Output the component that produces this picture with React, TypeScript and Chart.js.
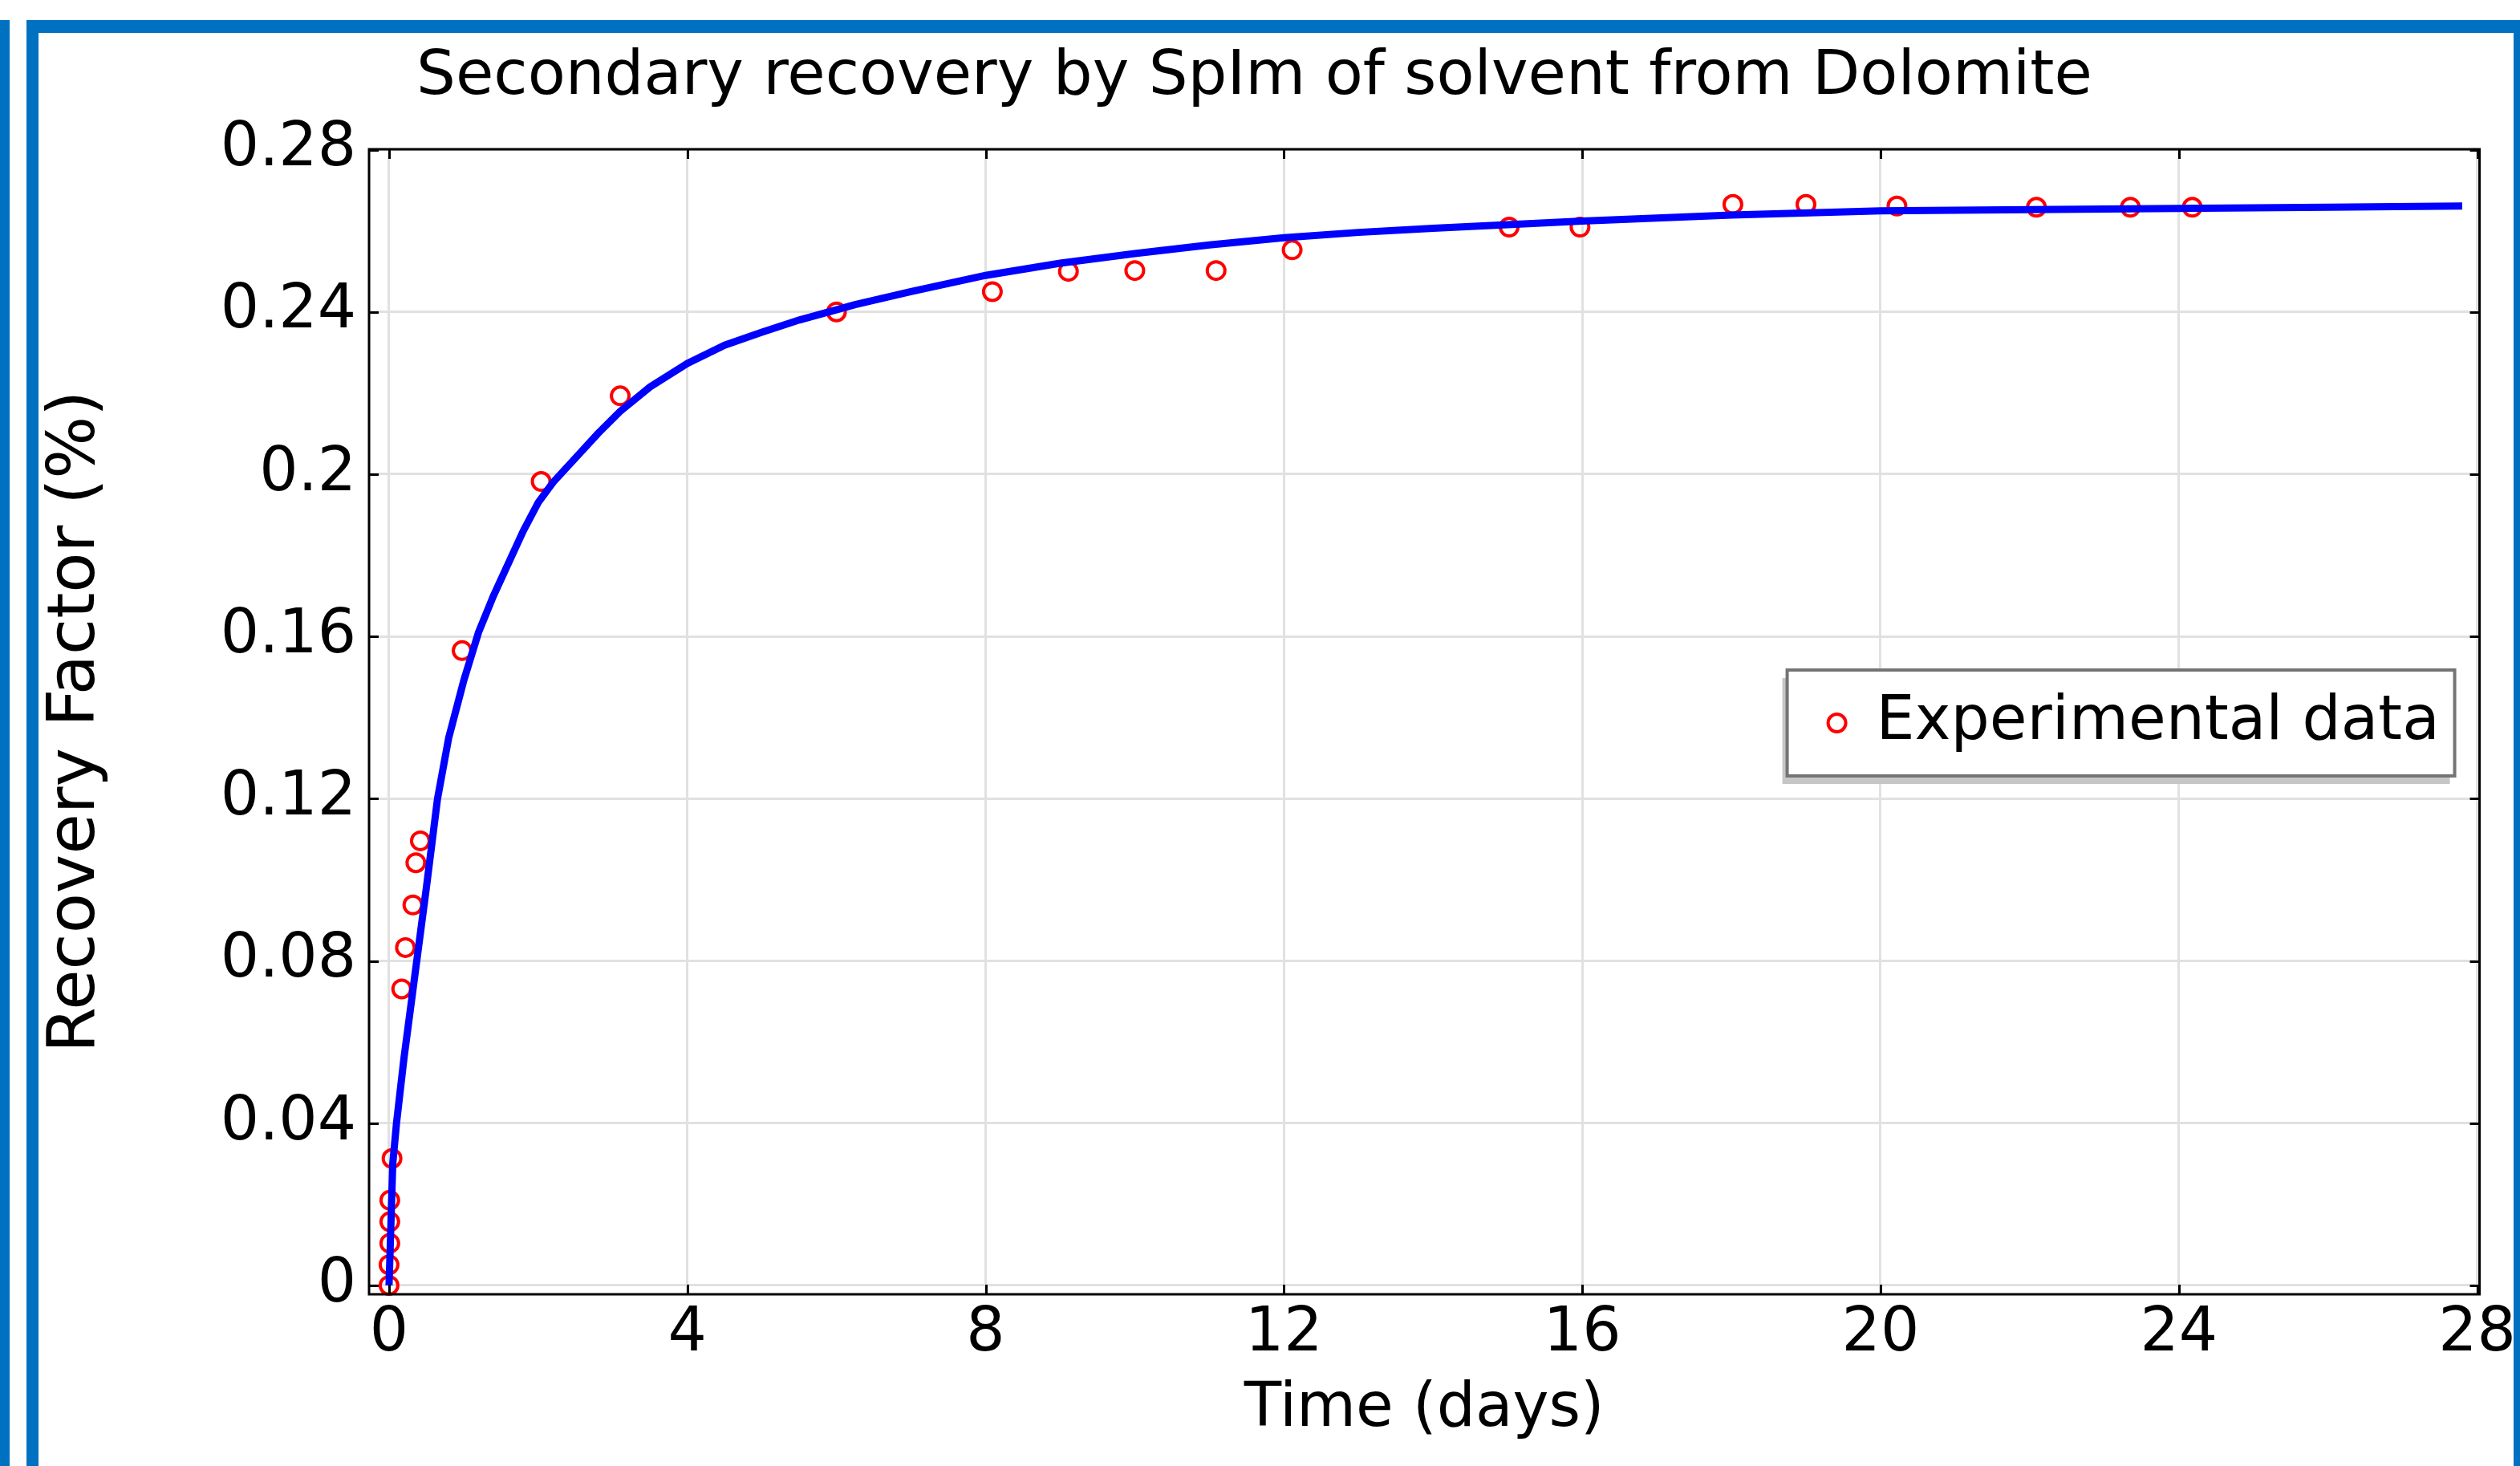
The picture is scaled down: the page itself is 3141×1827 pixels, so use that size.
import React, { useEffect, useRef } from 'react';
import { Chart, registerables } from 'chart.js';

Chart.register(...registerables);

// ---------- data ----------
const chartTitle = 'Secondary recovery by SpIm of solvent from Dolomite';
const xAxisTitle = 'Time (days)';
const yAxisTitle = 'Recovery Factor (%)';
const experimentLabel = 'Experimental data';
const modelLabel = 'Model';

const xTickValues = [0, 4, 8, 12, 16, 20, 24, 28];
const xTickLabels = ['0', '4', '8', '12', '16', '20', '24', '28'];
const yTickValues = [0, 0.04, 0.08, 0.12, 0.16, 0.2, 0.24, 0.28];
const yTickLabels = ['0', '0.04', '0.08', '0.12', '0.16', '0.2', '0.24', '0.28'];

const expTime = [0, 0, 0.01, 0.01, 0.01, 0.04, 0.17, 0.22, 0.32, 0.36, 0.42, 0.98, 2.04, 3.1, 6.0, 8.09, 9.11, 10.0, 11.09, 12.11, 15.02, 15.97, 18.02, 19.0, 20.22, 22.09, 23.35, 24.18];
const expRecovery = [0, 0.0051, 0.0104, 0.0157, 0.021, 0.0313, 0.0731, 0.0833, 0.0938, 0.1042, 0.1096, 0.1565, 0.1982, 0.2193, 0.24, 0.245, 0.25, 0.2502, 0.2502, 0.2553, 0.2609, 0.2609, 0.2665, 0.2665, 0.2661, 0.2658, 0.2658, 0.2658];

const modelTime = [0, 0.05, 0.1, 0.2, 0.3, 0.4, 0.5, 0.65, 0.8, 1.0, 1.2, 1.4, 1.6, 1.8, 2.0, 2.2, 2.5, 2.8, 3.1, 3.5, 4.0, 4.5, 5.0, 5.5, 6.25, 7.0, 8.0, 9.0, 10.0, 11.0, 12.0, 13.0, 14.0, 16.0, 18.0, 20.0, 22.0, 24.0, 26.0, 27.8];
const modelRecovery = [0, 0.03, 0.04, 0.056, 0.07, 0.084, 0.098, 0.12, 0.135, 0.149, 0.161, 0.17, 0.178, 0.186, 0.193, 0.198, 0.204, 0.21, 0.2155, 0.2215, 0.2273, 0.2318, 0.235, 0.238, 0.2418, 0.245, 0.249, 0.252, 0.2544, 0.2565, 0.2583, 0.2596, 0.2606, 0.2624, 0.2639, 0.2649, 0.2652, 0.2655, 0.2658, 0.2661];

// ---------- styling ----------
const FONT = 'DejaVu Sans';
const BLUE = '#0071c1';
const W = 3141;
const H = 1827;

const framePlugin = {
  id: 'frameAndLegend',
  afterDatasetsDraw(chart: any) {
    const { ctx, chartArea: a, scales } = chart;
    ctx.save();
    ctx.strokeStyle = '#000';
    ctx.lineWidth = 3;
    const tl = 12;
    ctx.beginPath();
    for (const v of xTickValues) {
      const px = Math.round(scales.x.getPixelForValue(v)) + 0.5;
      ctx.moveTo(px, a.bottom);
      ctx.lineTo(px, a.bottom - tl);
      ctx.moveTo(px, a.top);
      ctx.lineTo(px, a.top + tl);
    }
    for (const v of yTickValues) {
      const py = Math.round(scales.y.getPixelForValue(v)) + 0.5;
      ctx.moveTo(a.left, py);
      ctx.lineTo(a.left + tl, py);
      ctx.moveTo(a.right, py);
      ctx.lineTo(a.right - tl, py);
    }
    ctx.stroke();
    ctx.strokeRect(a.left, a.top, a.right - a.left, a.bottom - a.top);

    // legend box
    const ds = chart.data.datasets[1];
    const bx = a.right - 863;
    const by = a.top + 649;
    const bw = 832;
    const bh = 132;
    ctx.fillStyle = '#c6c6c6';
    ctx.fillRect(bx - 6, by + 10, bw, bh);
    ctx.fillStyle = '#ffffff';
    ctx.fillRect(bx, by, bw, bh);
    ctx.strokeStyle = '#747474';
    ctx.lineWidth = 4;
    ctx.strokeRect(bx, by, bw, bh);
    ctx.beginPath();
    ctx.strokeStyle = ds.borderColor;
    ctx.lineWidth = ds.borderWidth;
    ctx.arc(bx + 62, by + 66, ds.pointRadius, 0, Math.PI * 2);
    ctx.stroke();
    ctx.fillStyle = '#000';
    ctx.font = `76px "${FONT}"`;
    ctx.textBaseline = 'middle';
    ctx.textAlign = 'left';
    ctx.fillText(ds.label, bx + 111, by + 66);
    ctx.restore();
  },
};

export default function App() {
  const ref = useRef<HTMLCanvasElement>(null);

  useEffect(() => {
    const canvas = ref.current;
    if (!canvas) return;
    const chart = new Chart(canvas, {
      type: 'scatter',
      data: {
        datasets: [
          {
            label: modelLabel,
            data: modelTime.map((t, i) => ({ x: t, y: modelRecovery[i] })),
            showLine: true,
            borderColor: '#0000ff',
            backgroundColor: '#0000ff',
            borderWidth: 9,
            pointRadius: 0,
            tension: 0,
          } as any,
          {
            label: experimentLabel,
            data: expTime.map((t, i) => ({ x: t, y: expRecovery[i] })),
            showLine: false,
            borderColor: '#ff0000',
            backgroundColor: 'rgba(0,0,0,0)',
            borderWidth: 4,
            pointRadius: 11,
            pointStyle: 'circle',
            clip: 20,
          } as any,
        ],
      },
      options: {
        responsive: false,
        maintainAspectRatio: false,
        devicePixelRatio: 1,
        animation: false,
        layout: { padding: { left: 28, right: 42, top: 0, bottom: 0 } },
        plugins: {
          legend: { display: false },
          tooltip: { enabled: false },
          title: {
            display: true,
            text: chartTitle,
            color: '#000',
            font: { family: FONT, size: 77, weight: 'normal' },
            padding: { top: 51, bottom: 42.6 },
          },
        },
        scales: {
          x: {
            type: 'linear',
            min: -0.268,
            max: 28.032,
            afterBuildTicks: (axis: any) => {
              axis.ticks = xTickValues.map((v) => ({ value: v }));
            },
            afterFit: (axis: any) => {
              axis.height = 214;
            },
            border: { display: false },
            grid: { color: '#e1e1e1', lineWidth: 3, drawTicks: false },
            ticks: {
              color: '#000',
              font: { family: FONT, size: 76 },
              padding: 5,
              autoSkip: false,
              maxRotation: 0,
              callback: (v: any) => {
                const i = xTickValues.findIndex((t) => Math.abs(t - v) < 1e-9);
                return i >= 0 ? xTickLabels[i] : '';
              },
            },
            title: {
              display: true,
              text: xAxisTitle,
              color: '#000',
              font: { family: FONT, size: 76 },
              padding: { top: 0, bottom: 24 },
            },
          },
          y: {
            type: 'linear',
            min: -0.00218,
            max: 0.2801,
            afterBuildTicks: (axis: any) => {
              axis.ticks = yTickValues.map((v) => ({ value: v }));
            },
            afterFit: (axis: any) => {
              axis.width = 432;
            },
            border: { display: false },
            grid: { color: '#e1e1e1', lineWidth: 3, drawTicks: false },
            ticks: {
              color: '#000',
              font: { family: FONT, size: 76 },
              padding: 16,
              autoSkip: false,
              callback: (v: any) => {
                const i = yTickValues.findIndex((t) => Math.abs(t - v) < 1e-9);
                return i >= 0 ? yTickLabels[i] : '';
              },
            },
            title: {
              display: true,
              text: yAxisTitle,
              color: '#000',
              font: { family: FONT, size: 82 },
              padding: { top: 19, bottom: 0 },
            },
          },
        },
      },
      plugins: [framePlugin],
    } as any);
    return () => chart.destroy();
  }, []);

  return (
    <div style={{ position: 'fixed', left: 0, top: 0, width: W, height: H, background: '#fff', overflow: 'hidden' }}>
      <canvas ref={ref} width={W} height={H} style={{ position: 'absolute', left: 0, top: 0, width: W, height: H }} />
      <div style={{ position: 'absolute', left: 0, top: 25, width: 12, height: H - 25, background: BLUE }} />
      <div style={{ position: 'absolute', left: 33, top: 25, width: W - 33, height: 16, background: BLUE }} />
      <div style={{ position: 'absolute', left: 33, top: 25, width: 15, height: H - 25, background: BLUE }} />
      <div style={{ position: 'absolute', left: 3133, top: 25, width: W - 3133, height: H - 25, background: BLUE }} />
    </div>
  );
}
